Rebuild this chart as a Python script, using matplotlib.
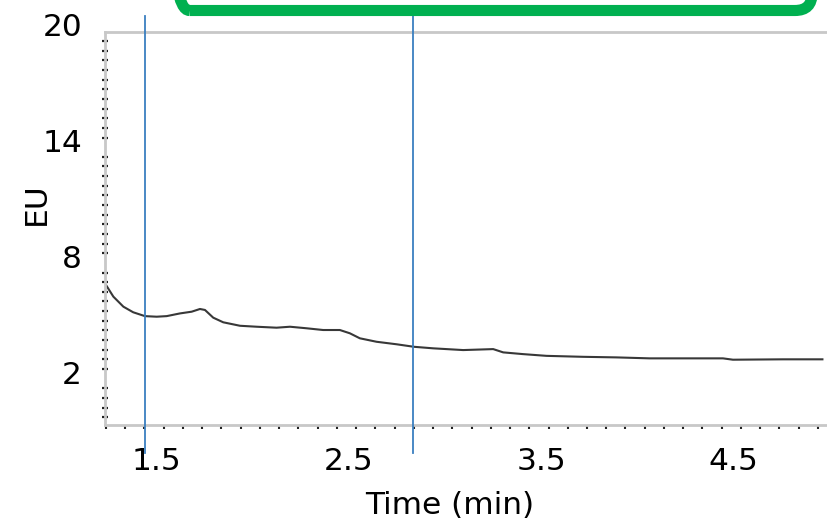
import numpy as np
import matplotlib
matplotlib.use("Agg")
import matplotlib.pyplot as plt
from matplotlib.patches import FancyBboxPatch
from matplotlib.transforms import IdentityTransform, ScaledTranslation

# Datos de la curva
time_min = [1.238, 1.276, 1.328, 1.379, 1.440, 1.501, 1.553, 1.622, 1.683,
            1.726, 1.752, 1.795, 1.847, 1.934, 2.021, 2.124, 2.194, 2.280,
            2.366, 2.453, 2.505, 2.557, 2.644, 2.748, 2.838, 2.938, 3.094,
            3.250, 3.302, 3.405, 3.527, 3.717, 3.890, 4.063, 4.444, 4.496,
            4.756, 4.961]
eu = [6.85, 6.25, 5.73, 5.44, 5.24, 5.21, 5.24, 5.38, 5.47,
      5.61, 5.56, 5.16, 4.92, 4.74, 4.69, 4.64, 4.69, 4.61,
      4.52, 4.52, 4.35, 4.09, 3.91, 3.78, 3.65, 3.57, 3.48,
      3.53, 3.36, 3.27, 3.18, 3.13, 3.10, 3.05, 3.05, 2.98,
      3.00, 3.00]

# Marcadores verticales
markers = [1.44, 2.834]

x_ticks = [1.5, 2.5, 3.5, 4.5]
y_ticks = [2, 8, 14, 20]

xlo, xhi = 1.2325, 4.99
ylo, yhi = -0.38, 20

fig = plt.figure(figsize=(8.28, 5.23), dpi=100)
ax = fig.add_axes([105 / 828, 1 - 424.5 / 523, 723 / 828, 393 / 523])

ax.plot(time_min, eu, color="#383838", lw=1.5, solid_joinstyle="round")

for m in markers:
    ax.axvline(m, ymin=-0.0725, ymax=1.039, color="#3a7fc0", lw=1.3,
               clip_on=False, zorder=5)

ax.set_xlim(xlo, xhi)
ax.set_ylim(ylo, yhi)

# Ejes
for side in ["top", "bottom", "left"]:
    ax.spines[side].set_color("#c8c8c8")
    ax.spines[side].set_linewidth(2)
ax.spines["right"].set_visible(False)

ax.set_xticks(x_ticks)
ax.set_xticklabels([str(v) for v in x_ticks])
ax.set_yticks(y_ticks)
ax.set_yticklabels([str(v) for v in y_ticks])
ax.set_xticks(np.arange(xlo + 0.005, xhi, 0.1), minor=True)
ax.set_yticks(np.arange(yhi, ylo, -0.5), minor=True)

ax.tick_params(axis="both", which="major", length=0, labelsize=22.5)
ax.tick_params(axis="x", which="major", pad=16)
ax.tick_params(axis="y", which="major", pad=16.5)
ax.tick_params(axis="x", which="minor", direction="out", length=3,
               width=1.5, color="#222222")
ax.tick_params(axis="y", which="minor", direction="inout", length=5,
               width=1.6, color="#222222")

# subir un poco las etiquetas del eje y
for lab in ax.get_yticklabels():
    lab.set_transform(lab.get_transform() + ScaledTranslation(0, 0.065, fig.dpi_scale_trans))

ax.set_xlabel("Time (min)", fontsize=22.5)
ax.set_ylabel("EU", fontsize=22.5)
ax.xaxis.set_label_coords(0.477, -0.207)
ax.xaxis.label.set_va("center")
ax.yaxis.set_label_coords(-0.0954, 0.561)
ax.yaxis.label.set_va("center")
ax.yaxis.label.set_ha("center")

# Recuadro verde (cortado arriba)
box = FancyBboxPatch((172.5, 523 - 10.5), 812 - 172.5, 120,
                     boxstyle="round,pad=0,rounding_size=17",
                     fill=False, edgecolor="#00b050", lw=8,
                     transform=IdentityTransform())
fig.add_artist(box)

fig.savefig("out.png", dpi=100)
